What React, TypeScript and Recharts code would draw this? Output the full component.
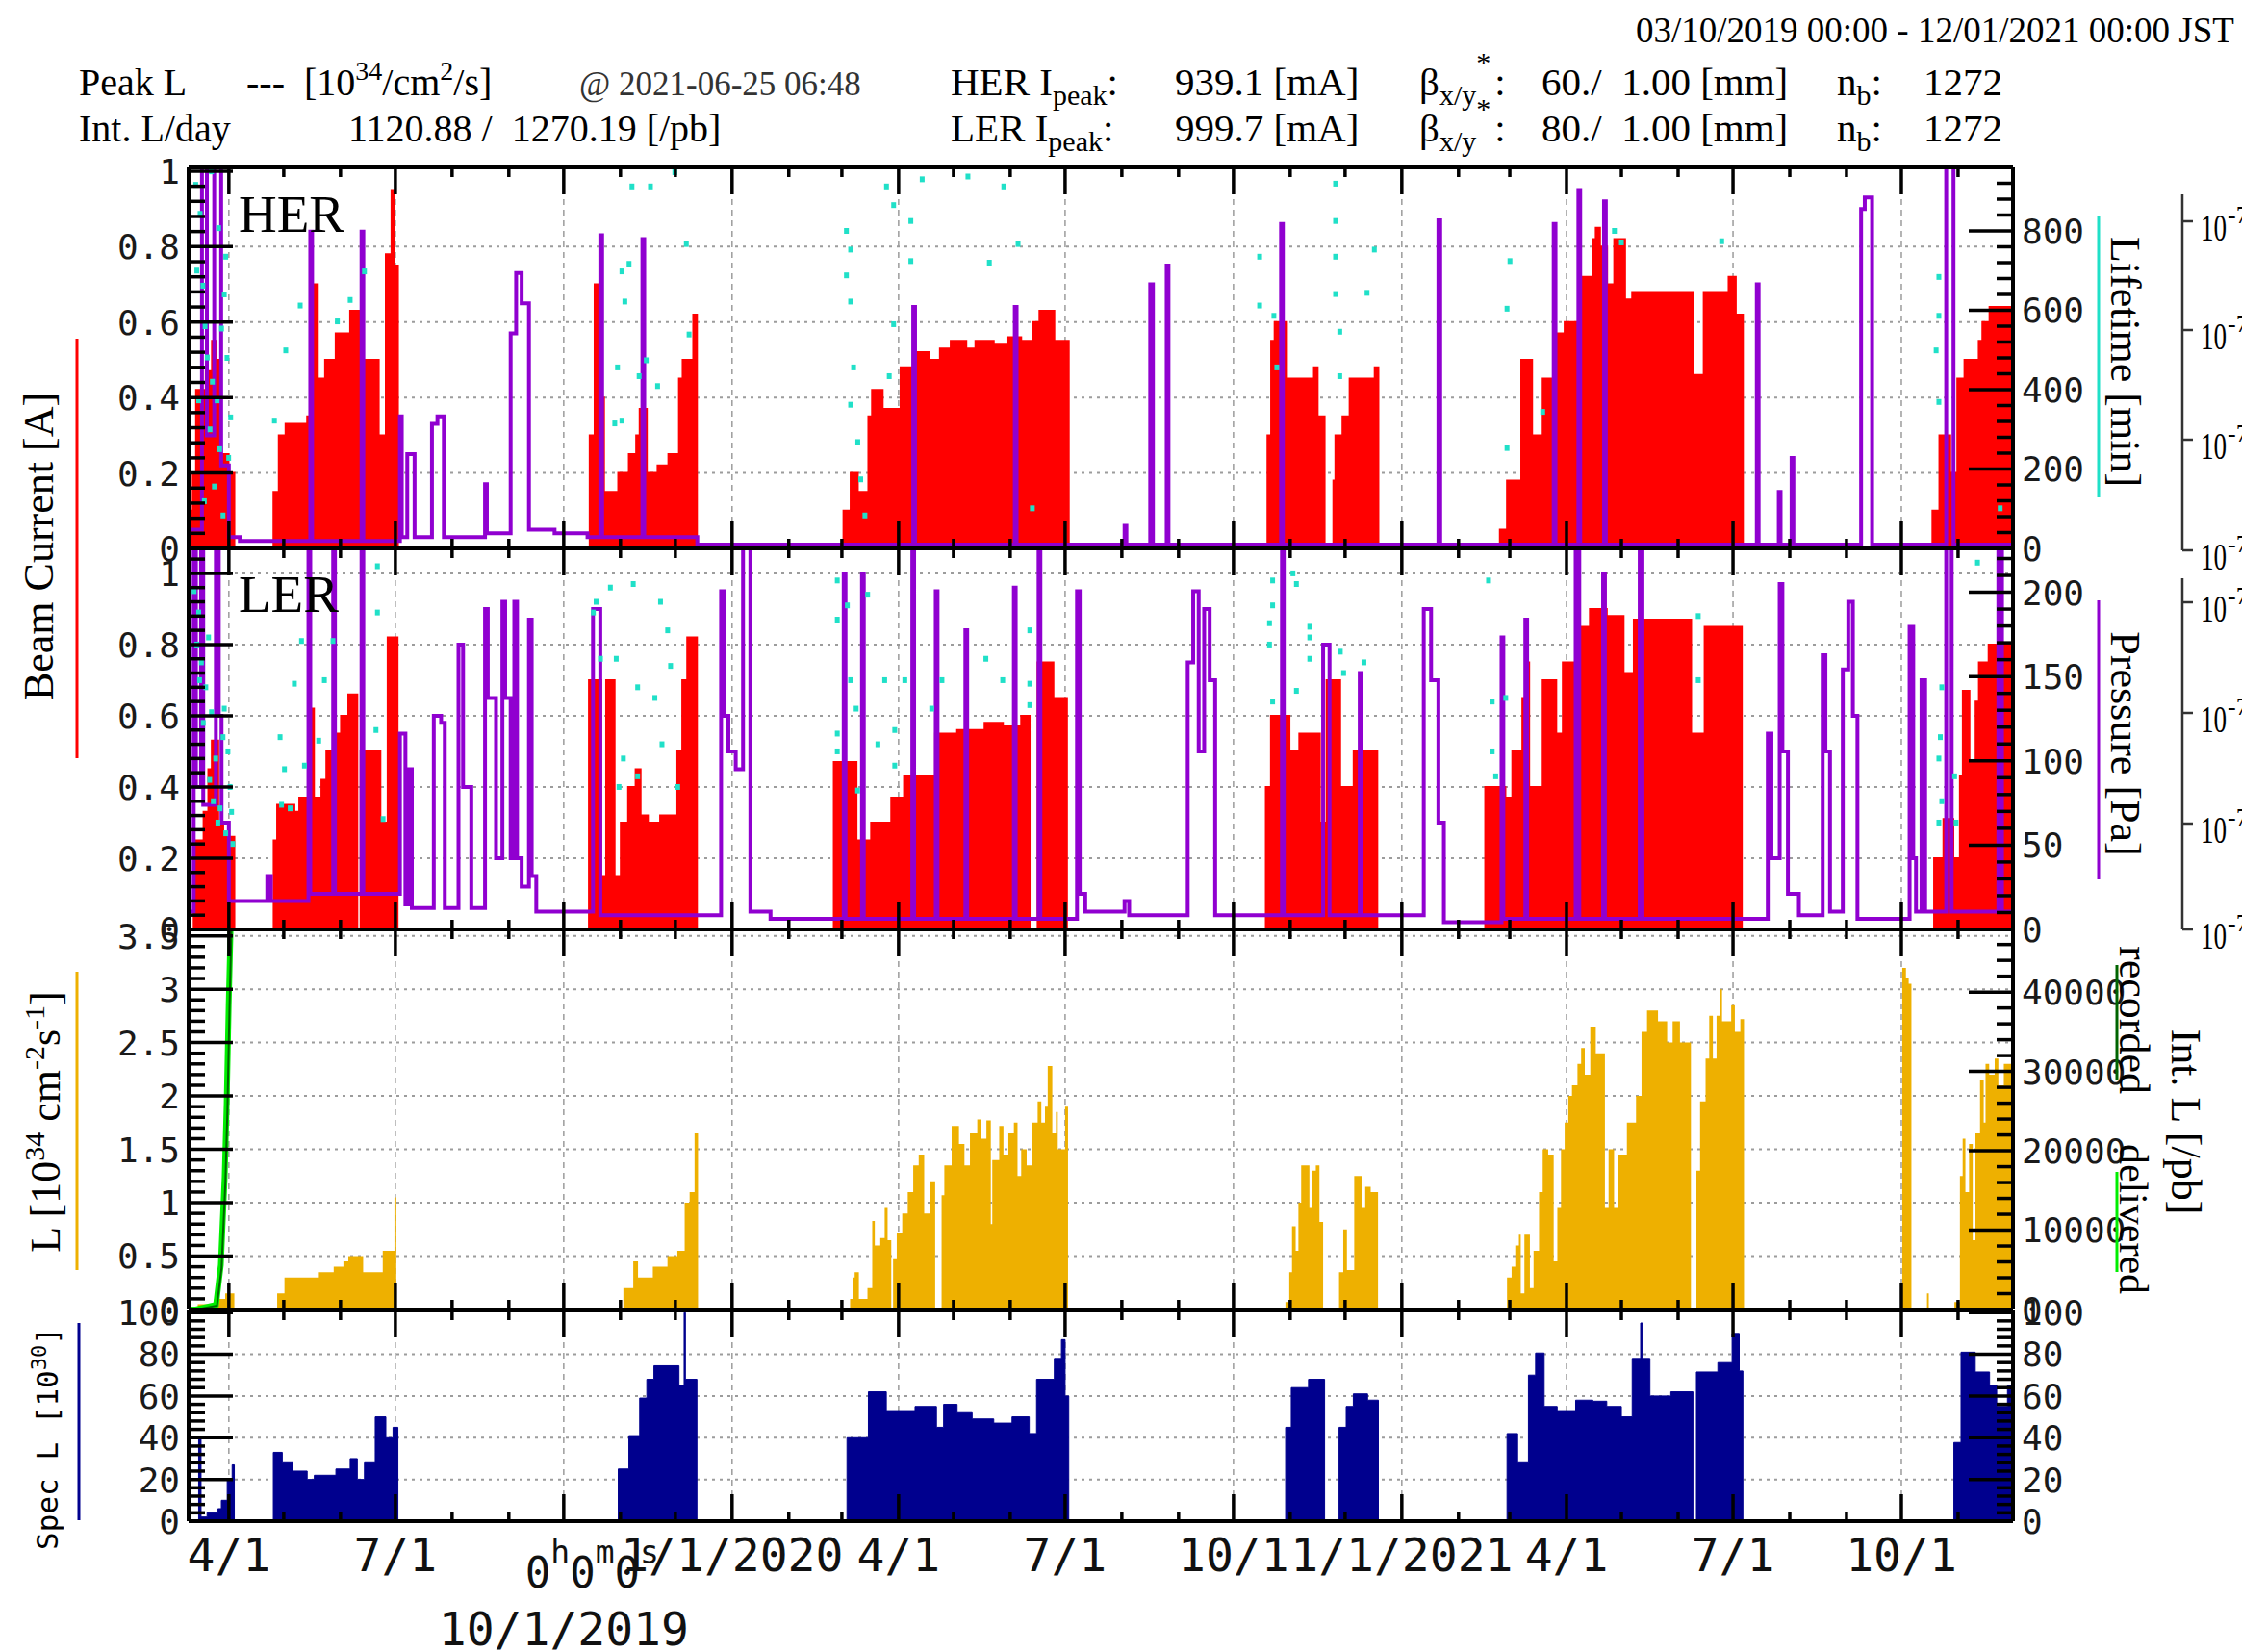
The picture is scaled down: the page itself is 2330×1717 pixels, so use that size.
import React from "react";
import { ComposedChart, XAxis, YAxis, CartesianGrid, Area, Line, Scatter } from "recharts";

const W = 2330;
const H = 1717;
const PLOT_L = 196;
const PLOT_R = 2092;
const X_DOMAIN: [number, number] = [0, 997];

const SERIF = "'Liberation Serif', 'DejaVu Serif', serif";
const MONO = "'DejaVu Sans Mono', monospace";
const RED = "#ff0000";
const PURPLE = "#9000d0";
const CYAN = "#20e0c8";
const GOLD = "#eeb000";
const NAVY = "#00008e";
const GREEN = "#00ee00";
const DKGREEN = "#006400";

// x is days since 03/10/2019 00:00 JST
const MONTH_TICKS = [22, 52, 83, 113, 144, 175, 205, 236, 266, 297, 328, 357, 388, 418, 449, 479, 510, 541, 571, 602, 632, 663, 694, 722, 753, 783, 814, 844, 875, 906, 936, 967];
const QUARTER_TICKS = [22, 113, 205, 297, 388, 479, 571, 663, 753, 844, 936];
const QUARTER_LABELS = ["4/1", "7/1", "10/1/2019", "1/1/2020", "4/1", "7/1", "10/1", "1/1/2021", "4/1", "7/1", "10/1"];
const OFFSET_LABEL = "10/1/2019";

type Pt = [number, number];

// HER beam current [A]
const HER_CURRENT: Pt[] = [
  [0, 0], [1.5, 0.1], [2.3, 0.2], [4.1, 0.42], [9.4, 0.47], [12.8, 0.55], [15, 0.5], [17.8, 0.25], [21.8, 0.2], [25, 0],
  [46.4, 0.15], [49.3, 0.3], [53, 0.33], [64.8, 0.35], [67, 0.7], [70.6, 0.45], [74.6, 0.5], [80.4, 0.57], [88.3, 0.63], [94, 0.5], [103.9, 0.3], [107.8, 0.78], [110.9, 0.95], [112.5, 0.75], [114.4, 0],
  [219.2, 0.3], [221.9, 0.7], [225, 0.4], [227, 0.15], [234.8, 0.2], [240.6, 0.25], [244.6, 0.3], [246.5, 0.37], [250.4, 0.2], [256.3, 0.22], [262.2, 0.25], [268, 0.45], [270, 0.5], [275.8, 0.62], [277.8, 0],
  [357.9, 0.1], [361.8, 0.2], [365.7, 0.15], [371.5, 0.35], [373.5, 0.42], [379.3, 0.37], [389.1, 0.48], [397, 0.52], [404.8, 0.5], [410.6, 0.53], [416.5, 0.55], [425, 0.53], [430, 0.55], [440, 0.54], [448, 0.56], [455, 0.55], [461.4, 0.6], [465, 0.63], [473.1, 0.55], [481, 0],
  [589.6, 0.3], [591.6, 0.55], [593.5, 0.6], [600.2, 0.45], [615, 0.48], [617, 0.35], [620.8, 0],
  [625.6, 0.18], [626.7, 0.3], [630.6, 0.35], [634.5, 0.45], [648.2, 0.48], [650.2, 0],
  [716.6, 0.05], [720.5, 0.18], [728.3, 0.5], [734.2, 0.3], [740, 0.45], [747.9, 0.57], [752, 0.6], [761.5, 0.72], [767.4, 0.82], [769, 0.85], [771.3, 0.8], [775.2, 0.7], [779.1, 0.82], [785, 0.66], [788.9, 0.68], [822.1, 0.46], [828, 0.68], [841.6, 0.72], [845.5, 0.62], [849.4, 0],
  [953, 0.1], [956.8, 0.3], [962.7, 0.2], [966.6, 0.45], [970.5, 0.5], [978.3, 0.55], [980.3, 0.6], [984.2, 0.64], [997, 0.64],
];

// HER pressure, read in left-axis units
const HER_PRESSURE: Pt[] = [
  [0, 0.05], [7.3, 1.01], [10, 0.3], [14, 1.01], [17.8, 0.22], [22, 0.03], [28, 0.02], [66.5, 0.84], [67.5, 0.02], [94.5, 0.84], [95.5, 0.02],
  [115.5, 0.35], [116.5, 0.03], [119.5, 0.25], [123.5, 0.03], [133, 0.33], [136, 0.35], [139.5, 0.03], [162, 0.17], [163, 0.04],
  [176, 0.57], [179, 0.73], [182, 0.65], [186, 0.05], [200, 0.04], [218, 0.03], [225, 0.83], [226, 0.03], [248, 0.82], [249, 0.03],
  [278, 0.01], [396, 0.64], [397, 0.01], [451.5, 0.64], [452.5, 0.01], [511.5, 0.06], [512.5, 0.01], [525.5, 0.7], [527, 0.01],
  [534.5, 0.75], [535.5, 0.01], [597, 0.86], [598, 0.01], [683, 0.87], [684, 0.01], [746, 0.86], [747, 0.01], [759.5, 0.95], [760.5, 0.01],
  [773.5, 0.92], [774.5, 0.01], [857, 0.7], [858, 0.01], [869, 0.15], [870, 0.01], [876, 0.24], [877, 0.01], [914, 0.9], [916, 0.93],
  [920, 0.01], [960.5, 1.01], [964.5, 0.01], [997, 0.01],
];

// HER lifetime [min]
const HER_LIFETIME: Pt[] = [
  [3.9, 916], [6.3, 843], [7.8, 662], [10.2, 481], [11.7, 300], [14.1, 156], [15.6, 373], [18, 554], [20.3, 735], [21.9, 228], [8.6, 119], [12.5, 950],
  [18.8, 83], [5.5, 373], [16.4, 807], [4.5, 700], [9, 560], [13, 420], [17, 250], [19.5, 640], [21, 480], [23, 330],
  [53.1, 499], [61, 612], [46.9, 322], [81.3, 572], [88.3, 626], [96.1, 698],
  [236.8, 698], [240.7, 717], [238.4, 622], [234.4, 456], [232.9, 315], [242.3, 912], [252.4, 912], [265.7, 948], [246.2, 434], [250.1, 474],
  [236.8, 322], [256.3, 409], [272, 767], [273.5, 539],
  [359.5, 800], [361.8, 753], [359.5, 688], [361.8, 622], [363.4, 456], [361.8, 362], [365.7, 268], [367.3, 174], [369.6, 83], [381.4, 912],
  [385.3, 865], [394.7, 825], [394.7, 724], [400.9, 930], [382.9, 434], [385.3, 565], [425.9, 937], [437.6, 720], [445.5, 912], [453.3, 767], [461.1, 101],
  [585.3, 735], [585.3, 612], [593.1, 586], [594.7, 456], [626.8, 919], [626.8, 825], [626.8, 735], [626.8, 641], [629.1, 546], [629.1, 434], [644, 644], [648, 753],
  [720.5, 604], [722.1, 724], [720.5, 253], [740, 344], [779.2, 800], [783, 771], [837.8, 774],
  [956.5, 684], [956.5, 586], [955, 499], [956.5, 369], [990, 101],
];

// LER beam current [A]
const LER_CURRENT: Pt[] = [
  [0, 0], [2.8, 0.1], [4.1, 0.25], [8.2, 0.33], [10.8, 0.45], [12.7, 0.53], [16.2, 0.3], [18.9, 0.26], [25, 0],
  [46.5, 0.25], [48.4, 0.35], [57.8, 0.33], [60.5, 0.37], [65.9, 0.62], [68.5, 0.37], [72.6, 0.42], [75.3, 0.5], [79.3, 0.55], [83.3, 0.6], [87.3, 0.66], [92.2, 0], [94, 0.5], [104.8, 0.3], [108.8, 0.82], [114.2, 0],
  [218.8, 0.7], [225.5, 0.15], [228.2, 0.7], [232.8, 0.15], [236.2, 0.3], [240.2, 0.4], [244.3, 0.45], [247, 0.32], [251, 0.3], [257.7, 0.32], [267.1, 0.5], [269.8, 0.7], [272.5, 0.82], [277.8, 0],
  [352.6, 0.47], [365, 0.25], [373, 0.3], [384, 0.37], [391, 0.43], [408, 0.55], [420, 0.56], [435, 0.58], [445, 0.57], [455, 0.6], [459.6, 0], [464, 0.75], [472.6, 0.65], [480, 0],
  [588.7, 0.4], [591.5, 0.6], [601.6, 0.5], [607, 0.55], [618.2, 0.3], [621.9, 0.7], [629.3, 0.4], [636.7, 0.5], [649.6, 0],
  [708.6, 0.4], [719.6, 0.37], [723.4, 0.5], [728.9, 0.65], [730.7, 0.75], [732.6, 0.4], [740, 0.7], [747.4, 0.55], [751, 0.75], [758.4, 0.85], [765.8, 0.9], [773.2, 1.0], [774.3, 0.9], [775, 0.88], [784.2, 0.72], [789.8, 0.87], [821.1, 0.55], [828.5, 0.85], [848.8, 0],
  [953.9, 0.2], [959, 0.31], [964.4, 0.2], [968, 0.43], [969.6, 0.67], [973.2, 0.47], [976.6, 0.64], [978.4, 0.75], [983.7, 0.8], [995.9, 0.74], [997, 0.74],
];

// LER pressure, read in left-axis units
const LER_PRESSURE: Pt[] = [
  [0, 0.05], [2.8, 1.1], [4, 0.4], [6.8, 1.1], [8, 0.35], [14.9, 1.1], [16.5, 0.6], [18, 0.3], [22, 0.08], [43, 0.15], [45, 0.08],
  [65.5, 1.1], [66.5, 0.1], [79, 1.1], [80, 0.1], [94.5, 1.1], [95.5, 0.1], [115.5, 0.55], [118.5, 0.07], [120.5, 0.45], [122, 0.06],
  [134, 0.6], [138, 0.58], [140, 0.06], [147.5, 0.8], [150, 0.4], [154.5, 0.06], [162, 0.9], [163.5, 0.65], [168, 0.2], [171.5, 0.92],
  [173, 0.65], [176, 0.2], [178, 0.92], [179.5, 0.2], [182, 0.12], [186, 0.87], [187.5, 0.15], [190, 0.05], [221, 0.9], [225, 0.04],
  [291, 0.95], [292.5, 0.6], [295, 0.5], [299, 0.45], [303, 1.1], [307, 0.05], [318, 0.03], [358, 1.0], [359, 0.03], [368, 1.0], [369, 0.03],
  [395.5, 1.1], [396.5, 0.03], [408.3, 0.95], [409.3, 0.03], [424.5, 0.84], [425.5, 0.03], [451, 0.96], [452, 0.03], [464.5, 1.1], [465.5, 0.03],
  [485.5, 0.95], [487, 0.1], [490, 0.05], [511.5, 0.08], [514, 0.04], [546, 0.75], [549, 0.95], [552, 0.5], [555, 0.9], [558, 0.7], [561, 0.04],
  [597.5, 1.1], [598.5, 0.04], [620, 0.8], [623.5, 0.04], [640, 0.72], [641, 0.04], [675, 0.9], [679, 0.7], [683, 0.3], [686, 0.02],
  [717.5, 0.82], [718.5, 0.03], [730.5, 0.87], [731.5, 0.03], [758, 1.1], [760, 0.03], [773, 1.0], [774, 0.03], [793, 1.1], [794.5, 0.03],
  [863, 0.55], [865, 0.2], [869.5, 0.97], [871, 0.5], [874, 0.1], [880, 0.04], [893, 0.77], [894.5, 0.5], [897, 0.05], [904, 0.73], [907, 0.92],
  [909.5, 0.6], [912, 0.03], [940.5, 0.85], [942.5, 0.2], [944, 0.05], [947, 0.7], [949, 0.05], [960.5, 1.1], [963.5, 0.05], [989, 1.1], [991, 0.05], [997, 0.05],
];

// LER lifetime, read in left-axis units
const LER_LIFETIME: Pt[] = [
  [5.5, 0.89], [7, 0.75], [9.4, 0.68], [12.5, 0.61], [14.8, 0.48], [17.2, 0.34], [20.3, 0.27], [22.7, 0.4], [24.2, 0.24], [10.9, 0.82], [18.8, 0.54],
  [3, 0.95], [4.5, 0.8], [6, 0.7], [8, 0.58], [11.5, 0.42], [13.5, 0.36], [16, 0.3], [19.5, 0.62], [21.5, 0.5], [23.5, 0.33],
  [57.8, 0.69], [50, 0.54], [50.8, 0.35], [52.4, 0.45], [61.7, 0.81], [74.2, 0.7], [78.9, 0.81], [103.2, 0.89], [103.2, 1.02], [63.3, 0.46],
  [71.1, 0.53], [55.5, 0.34], [102.4, 0.56], [106.3, 0.31],
  [221.2, 0.89], [222.7, 0.92], [225.1, 0.76], [230.5, 0.96], [233.7, 0.76], [237.6, 0.48], [235.2, 0.4], [243, 0.97], [245.4, 0.68], [254.8, 0.65],
  [257.9, 0.92], [261.8, 0.84], [258.7, 0.52], [263.4, 0.74], [267.3, 0.4], [245.4, 0.43],
  [354.5, 0.98], [354.5, 0.87], [360, 0.91], [361.8, 0.7], [354.5, 0.55], [354.5, 0.5], [364.8, 0.62], [371.1, 0.94], [376.7, 0.52], [385.9, 0.46],
  [380.4, 0.7], [391.4, 0.7], [406.1, 0.62], [411.7, 0.7], [435.7, 0.76], [444.9, 0.7], [459.7, 0.84], [459.7, 0.69], [459.7, 0.63], [385.9, 0.56], [365.6, 0.39],
  [592.4, 0.98], [592.4, 0.91], [590.7, 0.86], [590.7, 0.8], [592.4, 0.64], [603.5, 1.0], [605.4, 0.97], [612.7, 0.85], [612.7, 0.82], [612.7, 0.76],
  [629.4, 0.78], [631.2, 0.72], [642.3, 0.75], [605.4, 0.67],
  [710.4, 0.98], [712.4, 0.64], [712.4, 0.5], [714.3, 0.43], [719.8, 0.65], [825, 0.88], [825, 0.7],
  [977.6, 1.03], [958.1, 0.68], [957.3, 0.54], [956.5, 0.48], [958.1, 0.36], [956.5, 0.3], [965.1, 0.43], [965.9, 0.3],
];

// Luminosity [1e34 /cm2/s]
const LUMI: Pt[] = [
  [0, 0], [5, 0.05], [14, 0.1], [20, 0.15], [25, 0],
  [48.4, 0.15], [52.4, 0.3], [63.2, 0.3], [71.2, 0.35], [79.3, 0.4], [84.6, 0.45], [87.3, 0.5], [95.4, 0.35], [106.1, 0.55], [112.5, 1.05], [113.5, 0],
  [237.6, 0.2], [243, 0.45], [245.6, 0.3], [253.7, 0.4], [261.7, 0.5], [267.1, 0.55], [271.1, 1.0], [273.8, 1.1], [276.5, 1.65], [278.4, 0],
  [361.5, 0.1], [362.9, 0.3], [364, 0.35], [366.3, 0.1], [371, 0.2], [373.6, 0.83], [375, 0.6], [378, 0.67], [380.4, 0.95], [382, 0.65], [384, 0],
  [385, 0.47], [387, 0.72], [390, 0.9], [393, 1.1], [396, 1.35], [399, 1.45], [402, 0.9], [405, 1.2], [408, 0], [411.5, 1.07], [413, 1.35],
  [417, 1.72], [421, 1.55], [424, 1.35], [427, 1.65], [431, 1.78], [433, 1.6], [436, 1.77], [438.4, 0.8], [439.2, 1.4], [443, 1.72], [445.3, 1.45],
  [448, 1.65], [451, 1.75], [453, 1.25], [455, 1.5], [458, 1.35], [461, 1.75], [464, 1.95], [466, 1.75], [468, 1.9], [469.5, 2.28], [472, 1.65],
  [474, 1.85], [475, 1.5], [479, 1.9], [480.6, 0],
  [599.4, 0.07], [601.5, 0.35], [603, 0.78], [605, 0.55], [606.5, 1.0], [608, 1.35], [612.5, 0.95], [614, 1.3], [616, 1.35], [618, 0.82], [620, 0],
  [628.7, 0.35], [631, 0.75], [633, 0.37], [637, 1.25], [641, 0.95], [643, 1.15], [646, 1.1], [650, 0],
  [720.5, 0.3], [723, 0.4], [725, 0.6], [727, 0.7], [728, 0.15], [730, 0.7], [733, 0.2], [735, 0.55], [738, 1.1], [740, 1.5], [743, 1.45], [746, 0.45],
  [748, 0.95], [750, 1.5], [752, 1.75], [754, 2.0], [756, 2.1], [759, 2.3], [761, 2.45], [763, 2.2], [766, 2.65], [769, 2.4], [774, 0.95], [776, 1.5],
  [779, 0.95], [781, 1.45], [786, 1.75], [791, 2.0], [794, 2.6], [797, 2.8], [803, 2.7], [808, 2.5], [811, 2.7], [815, 2.5], [821, 0], [824, 1.3],
  [826, 1.95], [829, 2.35], [831, 2.75], [833, 2.35], [835, 2.75], [837, 3.0], [838, 2.7], [843, 2.85], [845, 2.6], [848, 2.72], [850, 0],
  [936.5, 3.2], [938.5, 3.1], [940, 3.05], [941.5, 0], [950, 0.15], [951, 0],
  [965, 0.07], [968, 1.25], [969.5, 1.6], [971, 1.1], [973, 1.55], [975, 0.65], [976.5, 1.65], [979, 2.15], [981, 1.75], [982, 2.3], [984, 2.2],
  [987, 2.35], [989, 2.1], [992, 2.3], [997, 2.3],
];

// Integrated luminosity [/pb]
const INT_DELIVERED: Pt[] = [[0, 0], [4, 0], [15, 600], [17.6, 5600], [19.7, 16700], [20.8, 25900], [21.9, 38300], [22.9, 47600], [24, 60000]];
const INT_RECORDED: Pt[] = [[0, 0], [4.5, 0], [15.5, 500], [18, 5200], [20.1, 16000], [21.2, 25000], [22.3, 37500], [23.3, 47000], [24.4, 60000]];

// Specific luminosity [1e30]
const SPEC_L: Pt[] = [
  [0, 0], [5.5, 40], [6.8, 2], [10.1, 4], [16, 6], [17.9, 10], [21.1, 20], [23.8, 27], [25, 0],
  [46.3, 33], [51.2, 28], [57, 24], [64.8, 20], [68.7, 22], [80.5, 25], [88.3, 30], [92.2, 20], [96.1, 28], [102, 50], [107.8, 40], [111.7, 45], [114.4, 0],
  [234.8, 25], [240.6, 41], [246.5, 59], [250.4, 68], [254.3, 74.5], [268, 65], [270.8, 100], [271.5, 68], [277.8, 0],
  [359.8, 40], [371.5, 62], [381.3, 53], [397, 55], [408.7, 45], [412.6, 56], [420, 52], [428.2, 49], [440, 47], [450, 50], [459.4, 42], [463.4, 68], [473.1, 78], [477, 87], [479, 60], [481, 0],
  [599.5, 45], [602.6, 64], [612, 68], [620.8, 0],
  [628.7, 45], [632.6, 55], [636.5, 61], [644.3, 58], [650.2, 0],
  [720.5, 42], [726.3, 28], [732.2, 70], [736.1, 80.6], [740.8, 55], [747.9, 53], [758, 58], [767.4, 57.5], [775, 55], [783, 50], [788.9, 78], [793.5, 95], [794.5, 78],
  [798.6, 60], [810, 62], [822.1, 0], [824, 71.5], [835.7, 76], [843.5, 90], [847.4, 72], [849.4, 0],
  [964.7, 37.7], [968.6, 81], [976.4, 71.5], [984.2, 65], [988.1, 55], [994, 65], [997, 65],
];

const pts = (a: Pt[]) => a.map(([d, v]) => ({ d, v }));
const ladder = (max: number, step: number) => {
  const out: number[] = [];
  for (let i = 0; i * step <= max + 1e-9; i++) out.push(Number((i * step).toFixed(6)));
  return out;
};

type Side = { domain: [number, number]; majors: number[]; step: number };

const FRAME = { stroke: "#000", strokeWidth: 4 };

function XTick({ x, y, payload, dir, labels }: any) {
  const qi = QUARTER_TICKS.indexOf(payload.value);
  const len = qi >= 0 ? 28 : 10;
  const label = labels && qi >= 0 ? QUARTER_LABELS[qi] : null;
  const txt = { fontFamily: MONO, fill: "#111" };
  return (
    <g>
      <line x1={x} x2={x} y1={y} y2={y + dir * len} stroke="#000" strokeWidth={3.5} />
      {label === OFFSET_LABEL ? (
        <>
          <text x={x - 40} y={y + 69} fontSize={44} {...txt}>
            0<tspan dy={-25} fontSize={33}>h</tspan>
            <tspan dy={25} fontSize={44}>0</tspan>
            <tspan dy={-25} fontSize={33}>m</tspan>
            <tspan dy={25} fontSize={44}>0</tspan>
            <tspan dy={-25} fontSize={33}>s</tspan>
          </text>
          <text x={x} y={y + 129} textAnchor="middle" fontSize={48} {...txt}>{label}</text>
        </>
      ) : label ? (
        <text x={x} y={y + 52} textAnchor="middle" fontSize={48} {...txt}>{label}</text>
      ) : null}
    </g>
  );
}

function YTick({ x, y, payload, dir, majors }: any) {
  const v = payload.value as number;
  const major = majors.some((m: number) => Math.abs(m - v) < 1e-6);
  return (
    <g>
      <line x1={x} x2={x + dir * (major ? 46 : 17)} y1={y} y2={y} stroke="#000" strokeWidth={3.5} />
      {major && (
        <text x={x - dir * 9} y={y} dy="0.36em" textAnchor={dir > 0 ? "end" : "start"} fontFamily={MONO} fontSize={36} fill="#1a1a1a">
          {String(v)}
        </text>
      )}
    </g>
  );
}

const blank = () => <g />;

function Panel({ top, h, left, right, grid, labels = false, children }: {
  top: number; h: number; left: Side; right: Side; grid: number[]; labels?: boolean; children: React.ReactNode;
}) {
  const tH = 30;
  const bH = labels ? 140 : 30;
  const ch = tH + h + bH;
  const box: React.CSSProperties = { position: "absolute", left: 0, top: top - tH, width: W, height: ch };
  const m = { top: 0, right: 0, bottom: 0, left: 0 };
  return (
    <>
      <div style={box}>
        <ComposedChart width={W} height={ch} margin={m}>
          <XAxis dataKey="d" type="number" domain={X_DOMAIN} allowDataOverflow height={bH} ticks={QUARTER_TICKS} interval={0} tick={blank} tickLine={false} axisLine={false} />
          <XAxis xAxisId="t" dataKey="d" type="number" orientation="top" domain={X_DOMAIN} allowDataOverflow height={tH} tick={false} tickLine={false} axisLine={false} />
          <YAxis yAxisId="L" type="number" domain={left.domain} allowDataOverflow width={PLOT_L} ticks={grid} interval={0} tick={blank} tickLine={false} axisLine={false} />
          <YAxis yAxisId="R" type="number" orientation="right" domain={right.domain} allowDataOverflow width={W - PLOT_R} tick={false} tickLine={false} axisLine={false} />
          <CartesianGrid yAxisId="L" vertical={false} horizontalValues={grid} stroke="#9c9c9c" strokeWidth={2} strokeDasharray="3 5" />
          <CartesianGrid yAxisId="L" horizontal={false} verticalValues={QUARTER_TICKS} stroke="#9c9c9c" strokeWidth={1.5} strokeDasharray="6 5" />
          {children}
        </ComposedChart>
      </div>
      <div style={box}>
        <ComposedChart width={W} height={ch} margin={m}>
          <XAxis dataKey="d" type="number" domain={X_DOMAIN} allowDataOverflow height={bH} ticks={MONTH_TICKS} interval={0} tickSize={0} tickMargin={0} tickLine={false} axisLine={FRAME}
            tick={(p: any) => <XTick x={p.x} y={p.y} payload={p.payload} dir={-1} labels={labels} />} />
          <XAxis xAxisId="t" dataKey="d" type="number" orientation="top" domain={X_DOMAIN} allowDataOverflow height={tH} ticks={MONTH_TICKS} interval={0} tickSize={0} tickMargin={0} tickLine={false} axisLine={FRAME}
            tick={(p: any) => <XTick x={p.x} y={p.y} payload={p.payload} dir={1} labels={false} />} />
          <YAxis yAxisId="L" type="number" domain={left.domain} allowDataOverflow width={PLOT_L} ticks={ladder(left.domain[1], left.step)} interval={0} tickSize={0} tickMargin={0} tickLine={false} axisLine={FRAME}
            tick={(p: any) => <YTick x={p.x} y={p.y} payload={p.payload} dir={1} majors={left.majors} />} />
          <YAxis yAxisId="R" type="number" orientation="right" domain={right.domain} allowDataOverflow width={W - PLOT_R} ticks={ladder(right.domain[1], right.step)} interval={0} tickSize={0} tickMargin={0} tickLine={false} axisLine={FRAME}
            tick={(p: any) => <YTick x={p.x} y={p.y} payload={p.payload} dir={-1} majors={right.majors} />} />
        </ComposedChart>
      </div>
    </>
  );
}

const dot = (p: any) => <rect x={p.cx - 2.5} y={p.cy - 3} width={5} height={6} fill={CYAN} />;

function Overlay() {
  const t = { fontFamily: SERIF, fill: "#000", style: { whiteSpace: "pre" as const } };
  const sub = (s: string) => <tspan dy={10} fontSize={30}>{s}</tspan>;
  const row = (y: number, ring: string, cur: string, beta: string, extra: React.ReactNode) => (
    <g>
      {extra}
      <text x={988} y={y} fontSize={41} {...t}>{ring} I{sub("peak")}<tspan dy={-10}>:</tspan></text>
      <text x={1221} y={y} fontSize={41} {...t}>{cur}</text>
      <text x={1475} y={y} fontSize={41} {...t}>
        β{sub("x/y")}<tspan dy={-34} fontSize={30}>*</tspan><tspan dy={24} dx={4}>:</tspan>
      </text>
      <text x={1602} y={y} fontSize={41} {...t}>{beta}</text>
      <text x={1909} y={y} fontSize={41} {...t}>n{sub("b")}<tspan dy={-10}>:</tspan></text>
      <text x={1999} y={y} fontSize={41} {...t}>1272</text>
    </g>
  );
  const rot = (x: number, y: number, a: number) => `translate(${x},${y}) rotate(${a})`;
  const logAxes = [
    { top: 202, ticks: [230, 343, 457, 572] },
    { top: 601, ticks: [626, 741, 856, 966] },
  ];
  return (
    <svg width={W} height={H} style={{ position: "absolute", left: 0, top: 0, pointerEvents: "none" }}>
      <text x={1700} y={44} fontSize={37} {...t}>03/10/2019 00:00 - 12/01/2021 00:00 JST</text>
      {row(99, "HER", "939.1 [mA]", "60./  1.00 [mm]", (
        <>
          <text x={82} y={99} fontSize={40} {...t}>Peak L</text>
          <text x={256} y={99} fontSize={40} {...t}>
            ---  [10<tspan dy={-16} fontSize={28}>34</tspan><tspan dy={16}>/cm</tspan><tspan dy={-16} fontSize={28}>2</tspan><tspan dy={16}>/s]</tspan>
          </text>
          <text x={602} y={99} fontSize={35} {...t} fill="#333">@ 2021-06-25 06:48</text>
        </>
      ))}
      {row(147, "LER", "999.7 [mA]", "80./  1.00 [mm]", (
        <>
          <text x={82} y={147} fontSize={40} {...t}>Int. L/day</text>
          <text x={362} y={147} fontSize={40} {...t}>1120.88 /  1270.19 [/pb]</text>
        </>
      ))}

      <text x={248} y={241} fontSize={55} {...t}>HER</text>
      <text x={248} y={636} fontSize={55} {...t}>LER</text>

      <text transform={rot(55, 568, -90)} textAnchor="middle" fontSize={44} {...t}>Beam Current [A]</text>
      <line x1={80} x2={80} y1={352} y2={788} stroke={RED} strokeWidth={3} />
      <text transform={rot(62, 1166, -90)} textAnchor="middle" fontSize={44} {...t}>
        L [10<tspan dy={-16} fontSize={30}>34</tspan><tspan dy={16}> cm</tspan><tspan dy={-16} fontSize={30}>-2</tspan>
        <tspan dy={16}>s</tspan><tspan dy={-16} fontSize={30}>-1</tspan><tspan dy={16}>]</tspan>
      </text>
      <line x1={80} x2={80} y1={1010} y2={1320} stroke={GOLD} strokeWidth={3} />
      <text transform={rot(60, 1495, -90)} textAnchor="middle" fontSize={31} fontFamily={MONO} fill="#000">
        Spec L [10<tspan dy={-12} fontSize={22}>30</tspan><tspan dy={12}>]</tspan>
      </text>
      <line x1={82} x2={82} y1={1375} y2={1580} stroke={NAVY} strokeWidth={3} />

      <text transform={rot(2194, 376, 90)} textAnchor="middle" fontSize={44} {...t}>Lifetime [min]</text>
      <line x1={2181} x2={2181} y1={225} y2={517} stroke={CYAN} strokeWidth={3} />
      <text transform={rot(2194, 773, 90)} textAnchor="middle" fontSize={44} {...t}>Pressure [Pa]</text>
      <line x1={2181} x2={2181} y1={624} y2={914} stroke={PURPLE} strokeWidth={3} />
      <line x1={2200} x2={2200} y1={1003} y2={1122} stroke={DKGREEN} strokeWidth={3} />
      <text transform={rot(2203, 1060, 90)} textAnchor="middle" fontSize={44} {...t}>recorded</text>
      <line x1={2200} x2={2200} y1={1218} y2={1322} stroke={GREEN} strokeWidth={3} />
      <text transform={rot(2203, 1267, 90)} textAnchor="middle" fontSize={42} {...t}>delivered</text>
      <text transform={rot(2257, 1166, 90)} textAnchor="middle" fontSize={44} {...t}>Int. L [/pb]</text>

      {logAxes.map((a, i) => (
        <g key={i}>
          <line x1={2268} x2={2268} y1={a.top} y2={a.ticks[a.ticks.length - 1]} stroke="#333" strokeWidth={2.5} />
          {a.ticks.map((ty) => (
            <g key={ty}>
              <line x1={2268} x2={2279} y1={ty} y2={ty} stroke="#333" strokeWidth={2.5} />
              <text x={2287} y={ty + 20} fontSize={40} textLength={27} lengthAdjust="spacingAndGlyphs" {...t}>10</text>
              <text x={2315} y={ty + 2} fontSize={26} {...t}>-7</text>
            </g>
          ))}
        </g>
      ))}
    </svg>
  );
}

const herI = pts(HER_CURRENT);
const herP = pts(HER_PRESSURE);
const herLt = pts(HER_LIFETIME);
const lerI = pts(LER_CURRENT);
const lerP = pts(LER_PRESSURE);
const lerLt = pts(LER_LIFETIME);
const lumi = pts(LUMI);
const intDel = pts(INT_DELIVERED);
const intRec = pts(INT_RECORDED);
const specL = pts(SPEC_L);

const CURRENT_MAJORS = [0, 0.2, 0.4, 0.6, 0.8, 1];

export default function App() {
  return (
    <div style={{ position: "absolute", left: 0, top: 0, width: W, height: H, background: "#fff", overflow: "hidden" }}>
      <Panel top={174} h={396}
        left={{ domain: [0, 1.01], majors: CURRENT_MAJORS, step: 0.04 }}
        right={{ domain: [0, 960], majors: [0, 200, 400, 600, 800], step: 40 }}
        grid={[0.2, 0.4, 0.6, 0.8]}>
        <Line yAxisId="L" data={herP} dataKey="v" type="stepAfter" stroke={PURPLE} strokeWidth={4} dot={false} activeDot={false} isAnimationActive={false} />
        <Area yAxisId="L" data={herI} dataKey="v" type="stepAfter" stroke={RED} strokeWidth={2} fill={RED} fillOpacity={1} dot={false} activeDot={false} isAnimationActive={false} />
        <Scatter yAxisId="R" data={herLt} dataKey="v" fill={CYAN} shape={dot} isAnimationActive={false} />
      </Panel>
      <Panel top={570} h={396}
        left={{ domain: [0, 1.07], majors: CURRENT_MAJORS, step: 0.04 }}
        right={{ domain: [0, 226], majors: [0, 50, 100, 150, 200], step: 10 }}
        grid={[0.2, 0.4, 0.6, 0.8, 1]}>
        <Line yAxisId="L" data={lerP} dataKey="v" type="stepAfter" stroke={PURPLE} strokeWidth={4} dot={false} activeDot={false} isAnimationActive={false} />
        <Area yAxisId="L" data={lerI} dataKey="v" type="stepAfter" stroke={RED} strokeWidth={2} fill={RED} fillOpacity={1} dot={false} activeDot={false} isAnimationActive={false} />
        <Scatter yAxisId="L" data={lerLt} dataKey="v" fill={CYAN} shape={dot} isAnimationActive={false} />
      </Panel>
      <Panel top={966} h={395}
        left={{ domain: [0, 3.56], majors: [0, 0.5, 1, 1.5, 2, 2.5, 3, 3.5], step: 0.1 }}
        right={{ domain: [0, 47900], majors: [0, 10000, 20000, 30000, 40000], step: 2000 }}
        grid={[0.5, 1, 1.5, 2, 2.5, 3, 3.5]}>
        <Area yAxisId="L" data={lumi} dataKey="v" type="stepAfter" stroke="none" fill={GOLD} fillOpacity={1} dot={false} activeDot={false} isAnimationActive={false} />
        <Line yAxisId="R" data={intDel} dataKey="v" type="linear" stroke={GREEN} strokeWidth={6} dot={false} activeDot={false} isAnimationActive={false} />
        <Line yAxisId="R" data={intRec} dataKey="v" type="linear" stroke={DKGREEN} strokeWidth={2} dot={false} activeDot={false} isAnimationActive={false} />
      </Panel>
      <Panel top={1362} h={219} labels
        left={{ domain: [0, 101], majors: [0, 20, 40, 60, 80, 100], step: 4 }}
        right={{ domain: [0, 101], majors: [0, 20, 40, 60, 80, 100], step: 4 }}
        grid={[20, 40, 60, 80]}>
        <Area yAxisId="L" data={specL} dataKey="v" type="stepAfter" stroke={NAVY} strokeWidth={1} fill={NAVY} fillOpacity={1} dot={false} activeDot={false} isAnimationActive={false} />
      </Panel>
      <Overlay />
    </div>
  );
}
